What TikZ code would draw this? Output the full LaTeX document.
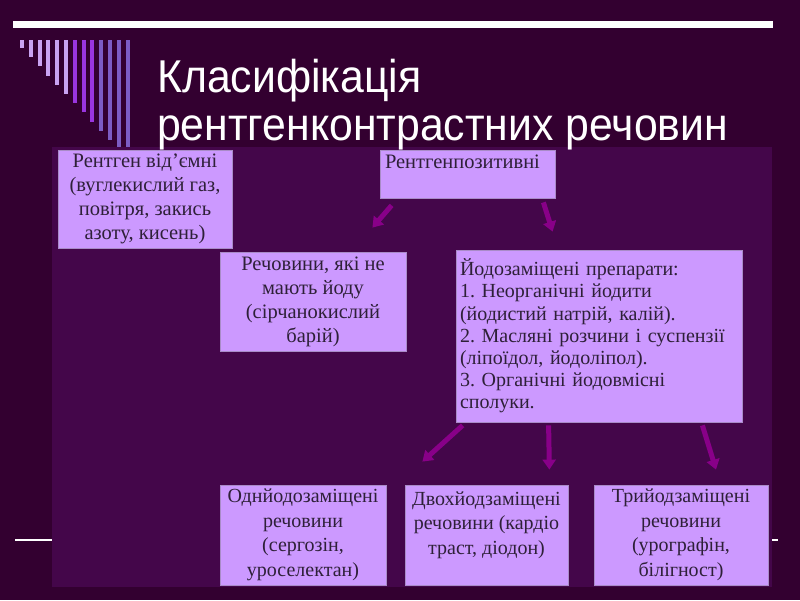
\documentclass[tikz,border=0pt]{standalone}
\usepackage{fontspec}
\setmainfont{Liberation Serif}
\newfontfamily\titlefont[FakeStretch=0.93]{Liberation Sans}
\newfontfamily\boxfont{Liberation Serif}
\usepackage{tikz}
\usetikzlibrary{positioning,arrows.meta}
\definecolor{slidebg}{HTML}{330030}
\definecolor{panelbg}{HTML}{44064A}
\definecolor{boxfill}{HTML}{CC99FF}
\definecolor{boxline}{HTML}{A98BC8}
\definecolor{boxtext}{HTML}{2E2038}
\definecolor{arrowc}{HTML}{880088}
\definecolor{barA}{HTML}{C9A3F2}
\definecolor{barB}{HTML}{9A35E0}
\definecolor{barC}{HTML}{7C5CC4}
\frenchspacing
\tikzset{
  box/.style ={rectangle, draw=boxline, line width=0.8pt, fill=boxfill, align=center, inner sep=3pt,
               text=boxtext, font=\boxfont\fontsize{20.5}{24}\selectfont},
  boxl/.style={box, align=left},
  flow/.style={-{Triangle[width=13pt,length=10pt]}, draw=arrowc, line width=5pt},
  bar/.style ={line width=4pt},
}
\begin{document}
\begin{tikzpicture}[x=1pt,y=-1pt]
\useasboundingbox (0,0) rectangle (800,600);
% --- slide background ---
\fill[slidebg] (0,0) rectangle (800,600);
\fill[white] (13,21) rectangle (773,28);
\draw[white, line width=1.5pt] (15,540) -- (778,540);
\foreach \i in {0,...,12} {
  \pgfmathsetmacro{\bx}{22+8.8*\i}
  \pgfmathsetmacro{\by}{48+9.2*\i}
  \ifnum\i<6 \def\bc{barA}\else\ifnum\i<9 \def\bc{barB}\else\def\bc{barC}\fi\fi
  \draw[bar, draw=\bc] (\bx,40) -- (\bx,\by);
}
\fill[panelbg] (52,147) rectangle (772,587);
% --- title ---
\node[anchor=base west, text=white, font=\titlefont\fontsize{46}{50}\selectfont, inner sep=0pt]
  (title1) at (157,92) {Класифікація};
\node[anchor=base west, text=white, font=\titlefont\fontsize{46}{50}\selectfont, inner sep=0pt]
  (title2) at (157,140) {рентгенконтрастних речовин};
% --- top row ---
\node[box, minimum width=174pt, minimum height=98pt] (neg) at (145,199)
  {Рентген від’ємні\\(вуглекислий газ,\\повітря, закись\\азоту, кисень)};
\node[boxl, minimum width=175pt, minimum height=48pt, text width=165pt] (pos) at (467.5,174)
  {Рентгенпозитивні\\\mbox{}};
% --- second row ---
\node[box, minimum width=186pt, minimum height=99pt] (noiod) at (313,301.5)
  {Речовини, які не\\мають йоду\\(сірчанокислий\\барій)};
\node[boxl, minimum width=286pt, minimum height=172pt, text width=278pt,
      font=\boxfont\fontsize{20}{22.2}\selectfont] (iod) at (599,336)
  {Йодозаміщені препарати:\\1. Неорганічні йодити\\(йодистий натрій, калій).\\2. Масляні розчини і суспензії\\(ліпоїдол, йодоліпол).\\3. Органічні йодовмісні\\сполуки.};
% --- bottom row ---
\tikzset{box/.append style={font=\boxfont\fontsize{20}{24.5}\selectfont}}
\node[box, minimum width=166pt, minimum height=100pt] (mono) at (303,535)
  {Однйодозаміщені\\речовини\\(сергозін,\\уроселектан)};
\node[box, minimum width=163pt, minimum height=100pt] (di) at (486.5,535)
  {Двохйодзаміщені\\речовини (кардіо\\траст, діодон)\\\mbox{}};
\node[box, minimum width=174pt, minimum height=100pt] (tri) at (681,535)
  {Трийодзаміщені\\речовини\\(урографін,\\білігност)};
% --- arrows ---
\draw[flow] ([xshift=12pt,yshift=-7pt]pos.south west) -- ([xshift=-34pt,yshift=24pt]noiod.north east);
\draw[flow] ([xshift=-12pt,yshift=-4pt]pos.south east) -- ([xshift=97pt,yshift=18pt]iod.north west);
\draw[flow] ([xshift=7pt,yshift=-3pt]iod.south west) -- ([xshift=36pt,yshift=23pt]mono.north east);
\draw[flow] ([xshift=93pt,yshift=-3pt]iod.south west) -- ([xshift=-19pt,yshift=15pt]di.north east);
\draw[flow] ([xshift=-40pt,yshift=-3pt]iod.south east) -- ([xshift=35pt,yshift=15pt]tri.north);
\end{tikzpicture}
\end{document}
